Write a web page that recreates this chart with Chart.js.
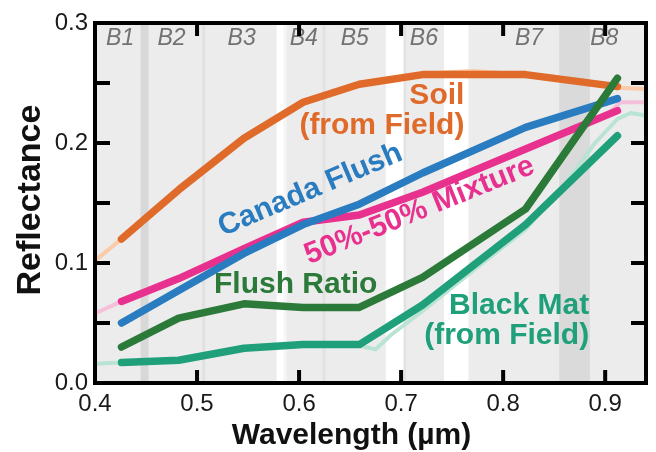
<!DOCTYPE html>
<html>
<head>
<meta charset="utf-8">
<script src="https://cdn.jsdelivr.net/npm/chart.js@4.4.1/dist/chart.umd.min.js"></script>
<style>
  html, body { margin: 0; padding: 0; background: #fff; }
  #wrap { width: 656px; height: 452px; }
</style>
</head>
<body>
<div id="wrap"><canvas id="chart" width="656" height="452"></canvas></div>
<script>
// band-averaged reflectance (bold lines)
const wavelengths = [0.426, 0.482, 0.546, 0.604, 0.659, 0.721, 0.822, 0.912];
const soil        = [0.120, 0.161, 0.204, 0.234, 0.249, 0.257, 0.257, 0.247];
const canadaFlush = [0.050, 0.077, 0.108, 0.132, 0.149, 0.175, 0.213, 0.237];
const mixture     = [0.068, 0.087, 0.112, 0.134, 0.140, 0.159, 0.195, 0.227];
const flushRatio  = [0.030, 0.054, 0.066, 0.063, 0.063, 0.088, 0.145, 0.254];
const blackMat    = [0.017, 0.019, 0.029, 0.032, 0.032, 0.065, 0.132, 0.206];

// field spectra (faint lines)
const soilFieldWl  = [0.40, 0.426, 0.482, 0.546, 0.604, 0.659, 0.721, 0.77, 0.822, 0.912, 0.94];
const soilField    = [0.102, 0.120, 0.161, 0.204, 0.234, 0.250, 0.258, 0.260, 0.257, 0.246, 0.245];
const mixFieldWl   = [0.40, 0.426, 0.482, 0.546, 0.604, 0.659, 0.721, 0.822, 0.905, 0.915, 0.94];
const mixField     = [0.058, 0.068, 0.087, 0.112, 0.134, 0.140, 0.159, 0.195, 0.226, 0.234, 0.234];
const blackFieldWl = [0.40, 0.426, 0.482, 0.546, 0.604, 0.659, 0.675, 0.69, 0.721, 0.78, 0.822, 0.86, 0.89, 0.912, 0.925, 0.94];
const blackField   = [0.016, 0.017, 0.019, 0.029, 0.032, 0.031, 0.028, 0.040, 0.060, 0.100, 0.128, 0.165, 0.200, 0.220, 0.225, 0.223];

const xTicks = [0.4, 0.5, 0.6, 0.7, 0.8, 0.9];
const yTicks = [0.0, 0.1, 0.2, 0.3];
const xMinor = [0.5, 0.6, 0.7, 0.8, 0.9];
const yMinor = [0.05, 0.1, 0.15, 0.2, 0.25];

// satellite band labels and background strips (wavelength, µm)
const bandNames  = ['B1', 'B2', 'B3', 'B4', 'B5', 'B6', 'B7', 'B8'];
const bandLabelX = [0.4246, 0.475, 0.5437, 0.6046, 0.6546, 0.7223, 0.8254, 0.8991];
const stripFrom  = [0.4447, 0.505, 0.578, 0.585, 0.623, 0.685, 0.7025, 0.742, 0.855];
const stripTo    = [0.4525, 0.508, 0.585, 0.588, 0.626, 0.7025, 0.705, 0.766, 0.885];
const stripShade = ['#d8d8d8', '#e1e1e1', '#ffffff', '#f6f6f6', '#e2e2e2', '#ffffff', '#e3e3e3', '#ffffff', '#dadada'];

const FONT = '"Liberation Sans", Arial, Helvetica, sans-serif';

const pts = (xs, ys) => xs.map((x, i) => ({ x: x, y: ys[i] }));

function line(label, xs, ys, color, width) {
  return {
    label: label,
    data: pts(xs, ys),
    borderColor: color,
    backgroundColor: color,
    borderWidth: width,
    borderCapStyle: 'round',
    borderJoinStyle: 'round',
    pointRadius: 0,
    tension: 0,
    fill: false
  };
}

function txt(ctx, s, x, y, color, font, align, base, angle) {
  ctx.save();
  ctx.translate(x, y);
  if (angle) ctx.rotate(angle * Math.PI / 180);
  ctx.fillStyle = color;
  ctx.font = font;
  ctx.textAlign = align;
  ctx.textBaseline = base;
  ctx.fillText(s, 0, 0);
  ctx.restore();
}

const backdrop = {
  id: 'backdrop',
  beforeDatasetsDraw(chart) {
    const { ctx, chartArea: a, scales: { x } } = chart;
    ctx.save();
    ctx.fillStyle = '#ececec';
    ctx.fillRect(a.left, a.top, a.right - a.left, a.bottom - a.top);
    stripFrom.forEach((f, i) => {
      const x0 = x.getPixelForValue(f), x1 = x.getPixelForValue(stripTo[i]);
      ctx.fillStyle = stripShade[i];
      ctx.fillRect(x0, a.top, x1 - x0, a.bottom - a.top);
    });
    bandNames.forEach((b, i) => {
      txt(ctx, b, x.getPixelForValue(bandLabelX[i]), a.top + 16, '#727272',
          'italic 23px ' + FONT, 'center', 'middle');
    });
    ctx.restore();
  }
};

const frame = {
  id: 'frame',
  afterDatasetsDraw(chart) {
    const { ctx, chartArea: a, scales: { x, y } } = chart;
    ctx.save();
    ctx.strokeStyle = '#000';
    ctx.lineWidth = 4;
    ctx.lineCap = 'butt';
    ctx.beginPath();
    xMinor.forEach(v => {
      const px = x.getPixelForValue(v);
      ctx.moveTo(px, a.bottom); ctx.lineTo(px, a.bottom - 13);
      ctx.moveTo(px, a.top); ctx.lineTo(px, a.top + 13);
    });
    yMinor.forEach(v => {
      const py = y.getPixelForValue(v);
      ctx.moveTo(a.left, py); ctx.lineTo(a.left + 15, py);
      ctx.moveTo(a.right, py); ctx.lineTo(a.right - 15, py);
    });
    ctx.stroke();
    ctx.lineJoin = 'miter';
    ctx.strokeRect(a.left, a.top, a.right - a.left, a.bottom - a.top);

    // curve labels
    const B = 'bold 30px ' + FONT;
    txt(ctx, 'Soil', x.getPixelForValue(0.762), y.getPixelForValue(0.2328), '#df6a2a', B, 'right', 'alphabetic');
    txt(ctx, '(from Field)', x.getPixelForValue(0.762), y.getPixelForValue(0.2073), '#df6a2a', B, 'right', 'alphabetic');
    txt(ctx, 'Canada Flush', x.getPixelForValue(0.6110), y.getPixelForValue(0.1606), '#2a7cc0', B, 'center', 'middle', -23);
    txt(ctx, '50%-50% Mixture', x.getPixelForValue(0.7180), y.getPixelForValue(0.1435), '#e8308f', B, 'center', 'middle', -22);
    txt(ctx, 'Flush Ratio', x.getPixelForValue(0.5967), y.getPixelForValue(0.0747), '#2b7a39', B, 'center', 'alphabetic');
    txt(ctx, 'Black Mat', x.getPixelForValue(0.8843), y.getPixelForValue(0.0578), '#1fa07a', B, 'right', 'alphabetic');
    txt(ctx, '(from Field)', x.getPixelForValue(0.8843), y.getPixelForValue(0.0323), '#1fa07a', B, 'right', 'alphabetic');

    // axis titles
    txt(ctx, 'Wavelength (\u00b5m)', (a.left + a.right) / 2 - 19, 436, '#111', 'bold 30px ' + FONT, 'center', 'middle');
    txt(ctx, 'Reflectance', 31, (a.top + a.bottom) / 2 - 3, '#111', 'bold 34px ' + FONT, 'center', 'middle', -90);
    ctx.restore();
  }
};

new Chart(document.getElementById('chart').getContext('2d'), {
  type: 'line',
  data: {
    datasets: [
      line('Flush Ratio', wavelengths, flushRatio, '#2b7a39', 7.5),
      line('Canada Flush', wavelengths, canadaFlush, '#2a7cc0', 7.5),
      line('50%-50% Mixture', wavelengths, mixture, '#e8308f', 7.5),
      line('Black Mat (from Field)', wavelengths, blackMat, '#1fa07a', 7.5),
      line('Soil (from Field)', wavelengths, soil, '#df6a2a', 7.5),
      line('Soil field spectrum', soilFieldWl, soilField, '#fbcaa8', 4),
      line('Mixture field spectrum', mixFieldWl, mixField, '#f5c0da', 4),
      line('Black Mat field spectrum', blackFieldWl, blackField, '#b9e3d3', 4)
    ]
  },
  options: {
    responsive: false,
    animation: false,
    layout: { padding: { top: 23, right: 10, left: 0, bottom: 0 } },
    plugins: { legend: { display: false }, tooltip: { enabled: false } },
    scales: {
      x: {
        type: 'linear',
        min: 0.4,
        max: 0.94,
        afterBuildTicks: s => { s.ticks = xTicks.map(v => ({ value: v })); },
        afterFit: s => { s.height = 69; },
        grid: { display: false, drawTicks: false },
        border: { display: false },
        ticks: {
          padding: 7,
          color: '#1a1a1a',
          font: { family: FONT, size: 24 },
          maxRotation: 0,
          callback: v => v.toFixed(1)
        }
      },
      y: {
        type: 'linear',
        min: 0,
        max: 0.3,
        afterBuildTicks: s => { s.ticks = yTicks.map(v => ({ value: v })); },
        afterFit: s => { s.width = 95; },
        grid: { display: false, drawTicks: false },
        border: { display: false },
        ticks: {
          padding: 7,
          color: '#1a1a1a',
          font: { family: FONT, size: 24 },
          callback: v => v.toFixed(1)
        }
      }
    }
  },
  plugins: [backdrop, frame]
});
</script>
</body>
</html>
